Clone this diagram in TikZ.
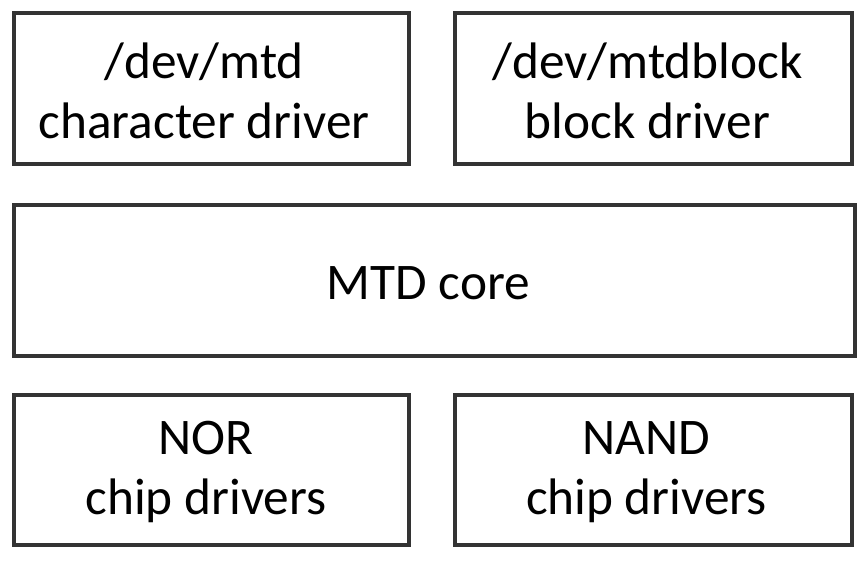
\documentclass[tikz,border=0pt]{standalone}
\usepackage{fontspec}
\setmainfont{Carlito}
\begin{document}
\begin{tikzpicture}[x=0.75pt,y=-0.75pt,
  blk/.style={draw=black!80,line width=2.4pt,fill=white},
  lbl/.style={align=center,font=\fontsize{38.5}{45}\selectfont,inner sep=0pt}]
\useasboundingbox (0,0) rectangle (868,564);
\draw[blk] (14,13) rectangle (409,164);
\draw[blk] (455,13) rectangle (852,164);
\draw[blk] (14,205) rectangle (855,356);
\draw[blk] (14,395) rectangle (409,545);
\draw[blk] (455,395) rectangle (852,545);
\node[lbl] (cd) at (204,91) {/dev/mtd\\character driver};
\node[lbl] (bd) at (647.5,91) {/dev/mtdblock\\block driver};
\node[lbl] (core) at (428.5,283) {MTD core};
\node[lbl] (nor) at (206,472) {NOR\\chip drivers};
\node[lbl] (nand) at (646.5,472) {NAND\\chip drivers};
\end{tikzpicture}
\end{document}
